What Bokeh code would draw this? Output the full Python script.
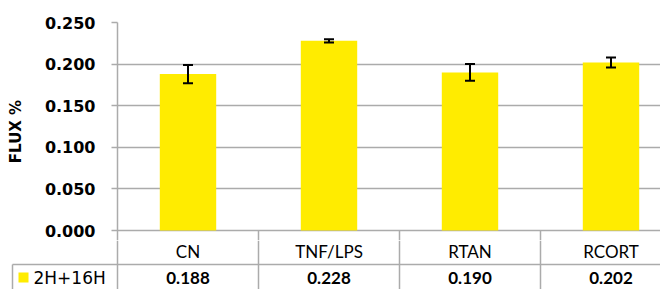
from bokeh.plotting import figure
from bokeh.models import Range1d, ColumnDataSource, Whisker, FixedTicker, TeeHead, NumeralTickFormatter
from bokeh.layouts import column
from bokeh.core.properties import value
from bokeh.embed import file_html
from bokeh.resources import INLINE

# ---- data ----
categories = ["CN", "TNF/LPS", "RTAN", "RCORT"]
flux = [0.188, 0.228, 0.190, 0.202]
errors = [0.011, 0.002, 0.010, 0.006]
series_name = "2H+16H"
y_ticks = [0.0, 0.05, 0.10, 0.15, 0.20, 0.25]

# ---- layout constants (pixels) ----
W = 660
TOP_H = 240
BOT_H = 49
LEFT = 117          # frame left edge inside figure
CAT_PX = 141        # width of one category
PX_PER_UNIT = 832   # vertical scale of the value axis
X_END = (W - LEFT) / CAT_PX
Y_LOW = -10 / PX_PER_UNIT
GRID = "#ababab"
BAR = "#FFEC00"

n = len(categories)
xs = [i + 0.5 for i in range(n)]
src = ColumnDataSource(dict(
    x=xs, cat=categories, flux=flux,
    lower=[f - e for f, e in zip(flux, errors)],
    upper=[f + e for f, e in zip(flux, errors)],
    label=[f"{v:.3f}" for v in flux],
))

top = figure(width=W, height=TOP_H, x_range=Range1d(0, X_END), y_range=Range1d(Y_LOW, 0.25),
             output_backend="svg", toolbar_location=None, x_axis_location=None,
             min_border_left=LEFT, min_border_right=0, min_border_top=22, min_border_bottom=0)
top.frame_align = False
top.outline_line_color = None
top.xgrid.visible = False
top.ygrid.ticker = FixedTicker(ticks=y_ticks)
top.ygrid.grid_line_color = GRID
top.ygrid.grid_line_width = 1.5

top.vbar(x="x", top="flux", width=0.4, source=src, fill_color=BAR, line_color=None)
wh = Whisker(base="x", upper="upper", lower="lower", source=src, line_color="black", line_width=2,
             upper_head=TeeHead(size=10, line_color="black", line_width=2),
             lower_head=TeeHead(size=10, line_color="black", line_width=2))
wh.level = "overlay"
top.add_layout(wh)
# start of table column separators below the zero line
top.segment(x0=list(range(1, n)), y0=[0] * (n - 1), x1=list(range(1, n)), y1=[Y_LOW] * (n - 1),
            line_color=GRID, line_width=1.5)

ya = top.yaxis[0]
ya.ticker = FixedTicker(ticks=y_ticks)
ya.formatter = NumeralTickFormatter(format="0.000")
ya.axis_line_color = GRID
ya.axis_line_width = 1.5
ya.major_tick_line_color = GRID
ya.major_tick_line_width = 1.5
ya.major_tick_out = 6
ya.major_tick_in = 0
ya.minor_tick_line_color = None
ya.major_label_text_font = "DejaVu Sans"
ya.major_label_text_font_style = "bold"
ya.major_label_text_font_size = "16px"
ya.major_label_text_color = "black"
ya.major_label_standoff = 16
ya.axis_label = "FLUX %"
ya.axis_label_text_font = "DejaVu Sans"
ya.axis_label_text_font_style = "bold"
ya.axis_label_text_font_size = "15px"
ya.axis_label_text_color = "black"
ya.axis_label_standoff = 17

# ---- data table below the chart ----
bot = figure(width=W, height=BOT_H, x_range=Range1d(-LEFT / CAT_PX, X_END), y_range=Range1d(0, BOT_H),
             output_backend="svg", toolbar_location=None, x_axis_location=None, y_axis_location=None,
             min_border=0, min_border_left=0, min_border_right=0, min_border_top=0, min_border_bottom=0)
bot.frame_align = False
bot.outline_line_color = None
bot.grid.visible = False

row_y = 25
left_x = -105 / CAT_PX
# row separator
bot.segment(x0=[left_x], y0=[row_y], x1=[X_END], y1=[row_y], line_color=GRID, line_width=1.5)
# vertical category boundaries (x=0 continues the value axis line)
bot.segment(x0=list(range(n)), y0=[0] * n, x1=list(range(n)), y1=[BOT_H] * n,
            line_color=GRID, line_width=1.5)
# left border of legend cell
bot.segment(x0=[left_x], y0=[0], x1=[left_x], y1=[row_y], line_color=GRID, line_width=1.5)

bot.text(x="x", y=38, text="cat", source=src, text_align="center", text_baseline="middle",
         text_font=value("Lato"), text_font_size="17px", text_color="black")
bot.text(x="x", y=12, text="label", source=src, text_align="center", text_baseline="middle",
         text_font=value("Lato"), text_font_style="bold", text_font_size="17px", text_color="black")

bot.rect(x=[-94 / CAT_PX], y=[12], width=10, height=10, width_units="screen", height_units="screen",
         fill_color=BAR, line_color=None)
bot.text(x=[-84 / CAT_PX], y=[12], text=[series_name], text_align="left", text_baseline="middle",
         text_font=value("DejaVu Sans"), text_font_size="17px", text_color="black")

p = column(top, bot, spacing=0)
open("out.html", "w").write(file_html(p, INLINE))
